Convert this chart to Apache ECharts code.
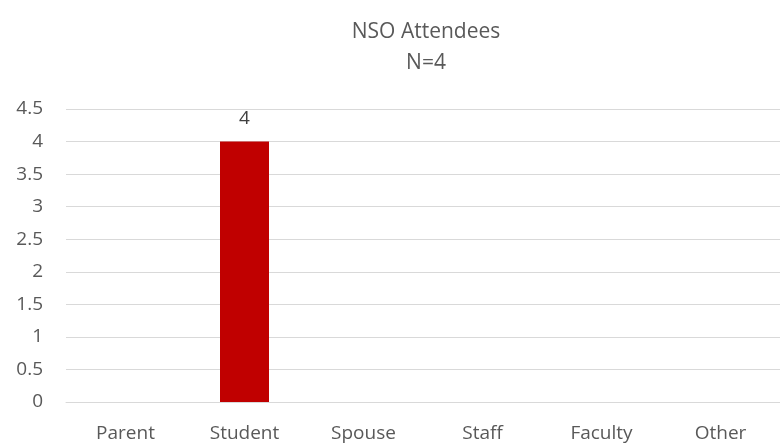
<!DOCTYPE html>
<html><head><meta charset="utf-8">
<script src="https://cdn.jsdelivr.net/npm/echarts@6/dist/echarts.min.js"></script>
<style>html,body{margin:0;padding:0;background:#fff}#c{width:780px;height:444px}</style>
</head><body><div id="c"></div>
<script>
const titleText = 'NSO Attendees\nN=4';
const categories = ['Parent','Student','Spouse','Staff','Faculty','Other'];
const values = [null, 4, null, null, null, null];
const yTicks = [0,0.5,1,1.5,2,2.5,3,3.5,4,4.5];
const chart = echarts.init(document.getElementById('c'), null, {renderer:'canvas'});
chart.setOption({
  animation:false,
  title:{text:titleText,left:421,textAlign:'center',top:12,
    textStyle:{fontFamily:'Open Sans',fontSize:21,fontWeight:'normal',color:'#595959',lineHeight:31}},
  grid:{left:66,right:-13,top:109,bottom:42,containLabel:false},
  xAxis:{type:'category',data:categories,
    axisLine:{lineStyle:{color:'#d9d9d9'}},axisTick:{show:false},
    axisLabel:{fontFamily:'Open Sans',fontSize:19,color:'#595959',margin:22}},
  yAxis:{type:'value',min:yTicks[0],max:yTicks[yTicks.length-1],interval:0.5,
    axisLine:{show:false},axisTick:{show:false},
    splitLine:{lineStyle:{color:'#d9d9d9',width:1}},
    axisLabel:{fontFamily:'Open Sans',fontSize:19,color:'#595959',margin:23}},
  series:[{type:'bar',data:values,barWidth:49,itemStyle:{color:'#C00000'},
    label:{show:true,position:'top',distance:13,fontFamily:'Open Sans',fontSize:19,color:'#404040'}}]
});
</script></body></html>
